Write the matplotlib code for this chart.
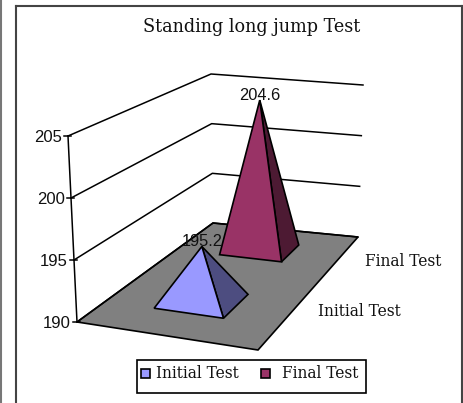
import matplotlib
matplotlib.use('Agg')
import matplotlib.pyplot as plt
from matplotlib.patches import Polygon, Rectangle
import numpy as np

title = 'Standing long jump Test'
series_names = ['Initial Test', 'Final Test']
series_values = [195.2, 204.6]
value_labels = ['195.2', '204.6']
y_ticks = [190, 195, 200, 205]

# floor corners and wall heights, in image pixels
floor_fl = np.array([77., 322.])
floor_fr = np.array([258., 350.])
floor_br = np.array([358., 237.])
floor_bl = np.array([213., 223.])
top_fl = np.array([68., 136.])
top_bl = np.array([211., 74.])
top_br = np.array([363., 85.])

depth_ranges = [(0.21, 0.43), (0.73, 0.885)]
side_range = (0.28, 0.68)
face_colors = [('#9999ff', '#4d4d80'), ('#993366', '#4d1a33')]


def floor_point(u, w):
    front = floor_fl + u*(floor_fr - floor_fl)
    back = floor_bl + u*(floor_br - floor_bl)
    return front + w*(back - front)


def wall_point(corner, top, val):
    return corner + (top - corner)*(val - y_ticks[0])/(y_ticks[-1] - y_ticks[0])


def pyramid(ax, w_range, val, colors):
    u0, u1 = side_range
    w0, w1 = w_range
    fl = floor_point(u0, w0)
    fr = floor_point(u1, w0)
    br = floor_point(u1, w1)
    center = floor_point((u0 + u1)/2., (w0 + w1)/2.)
    # height per unit shrinks going back
    scale = 10.815 - 0.673*(w0 + w1)/2.
    apex = center - np.array([0., scale*(val - y_ticks[0])])
    ax.add_patch(Polygon([fr, br, apex], closed=True, fc=colors[1], ec='black', lw=1.2, zorder=3))
    ax.add_patch(Polygon([fl, fr, apex], closed=True, fc=colors[0], ec='black', lw=1.2, zorder=3))
    return apex


fig = plt.figure(figsize=(4.63, 4.03), dpi=100)
ax = fig.add_axes([0, 0, 1, 1])
ax.set_xlim(0, 463)
ax.set_ylim(403, 0)
ax.axis('off')

# chart border
ax.plot([15.5, 15.5], [403, 5.5], color='#444444', lw=1.5)
ax.plot([15.5, 462], [5.5, 5.5], color='#444444', lw=1.5)
ax.plot([462, 462], [5.5, 403], color='#444444', lw=1.5)
ax.plot([0.5, 0.5], [0, 403], color='#777777', lw=1.5)

ax.text(252, 27, title, family='DejaVu Serif', fontsize=12.7, ha='center', va='center', color='#111111')

# floor
ax.add_patch(Polygon([floor_fl, floor_fr, floor_br, floor_bl], closed=True, fc='#808080', ec='black', lw=1.2, zorder=1))

# walls, gridlines and axis
for tick in y_ticks:
    left = wall_point(floor_fl, top_fl, tick)
    back = wall_point(floor_bl, top_bl, tick)
    right = wall_point(floor_br, top_br, tick)
    ax.plot([left[0], back[0], right[0]], [left[1], back[1], right[1]], color='black', lw=1.1, zorder=2)
    ax.plot([left[0] - 4, left[0] + 3], [left[1], left[1]], color='black', lw=1.1, zorder=2)
    ax.text(left[0] - 6, left[1] + 1.5, str(tick), family='Liberation Sans', fontsize=12, ha='right', va='center', color='#111111')
ax.plot([floor_fl[0], top_fl[0]], [floor_fl[1], top_fl[1]], color='black', lw=1.1, zorder=2)

# pyramids, back one first
for i in [1, 0]:
    apex = pyramid(ax, depth_ranges[i], series_values[i], face_colors[i])
    ax.text(apex[0], apex[1] - 5, value_labels[i], family='Liberation Sans', fontsize=11.8, ha='center', va='center', color='#111111', zorder=4)

# depth axis labels
ax.text(403, 261, series_names[1], family='DejaVu Serif', fontsize=11.2, ha='center', va='center', color='#111111')
ax.text(359, 312, series_names[0], family='DejaVu Serif', fontsize=11.2, ha='center', va='center', color='#111111')

# legend
ax.add_patch(Rectangle((136.5, 359.5), 229, 33, fc='white', ec='black', lw=1.2, zorder=5))
ax.add_patch(Rectangle((140.5, 368.5), 9, 9, fc=face_colors[0][0], ec='black', lw=1.2, zorder=6))
ax.text(156, 373, series_names[0], family='DejaVu Serif', fontsize=11.2, ha='left', va='center', color='#111111', zorder=6)
ax.add_patch(Rectangle((260.5, 368.5), 9, 9, fc=face_colors[1][0], ec='black', lw=1.2, zorder=6))
ax.text(282, 373, series_names[1], family='DejaVu Serif', fontsize=11.2, ha='left', va='center', color='#111111', zorder=6)

fig.savefig('out.png', dpi=100)
